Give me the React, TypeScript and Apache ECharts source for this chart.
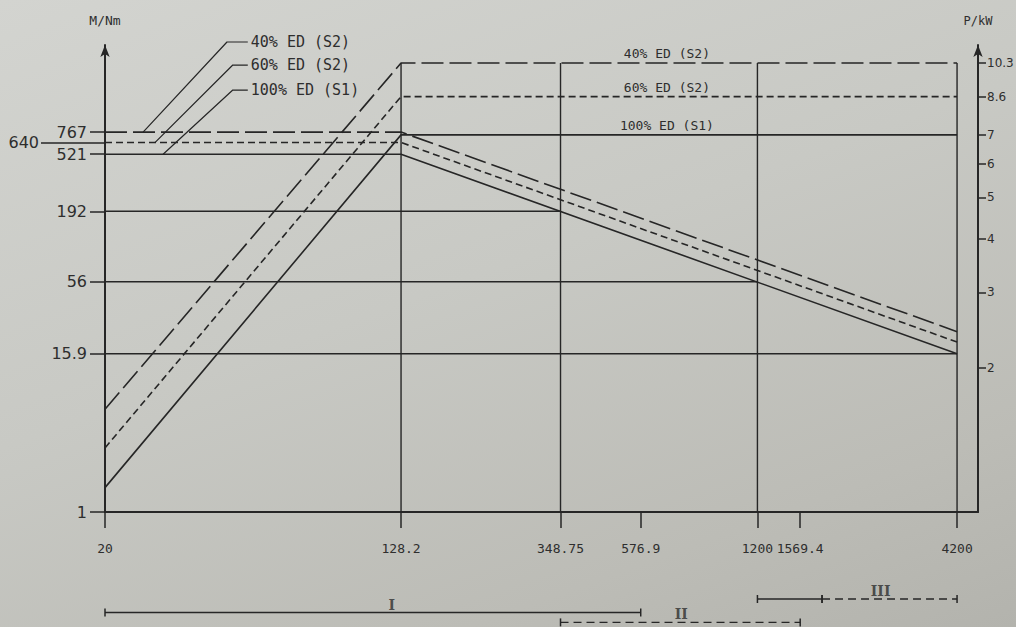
import React, { useEffect, useRef } from "react";
import * as echarts from "echarts";

// ---- tick labels ----
const SPEED_TICKS = [20, 128.2, 348.75, 576.9, 1200, 1569.4, 4200];
const TORQUE_TICKS = [1, 15.9, 56, 192, 521, 767];
const TORQUE_OFFSET_TICK = [640];
const POWER_TICKS = [2, 3, 4, 5, 6, 7, 8.6, 10.3];

// ---- duty cycles (40% S2, 60% S2, 100% S1) ----
const DUTY_NAMES = ["40% ED (S2)", "60% ED (S2)", "100% ED (S1)"];
const SPEED_MIN = 20;
const SPEED_BASE = 128.2;
const SPEED_TOP = 4200;
const TORQUE_RATED = [767, 640, 521];
const TORQUE_AT_TOP = [23.4, 19.5, 15.9];
const POWER_AT_MIN = [1.6, 1.3, 1.05];
const POWER_RATED = [10.3, 8.6, 7];

// ---- construction lines ----
const REF_TORQUE = [192, 56, 15.9];
const REF_TORQUE_END = [348.75, 1200, 4200];
const REF_SPEEDS = [128.2, 348.75, 1200, 4200];

// ---- annotation leaders (data coords) ----
const LEADER_START = [25.4, 27.4, 28.8];
const LEADER_KNEE_X = [43.0, 44.6, 44.6];
const LEADER_END_X = [49, 49, 49];
const LEADER_Y = [3706, 2477, 1600];
const DUTY_LABEL_SPEED = 680;

// ---- speed ranges I / II / III ----
const RANGE_NAMES = ["I", "II", "III"];
const RANGE_FROM = [20, 348.75, 1200];
const RANGE_TO = [576.9, 1569.4, 4200];
const RANGE_SOLID_TO = [576.9, 348.75, 1800];
const RANGE_ROW = [1.5, 0.4, 3];
const RANGE_LABEL_AT = [121, 744, 2600];

// ---- axis extents ----
const X_MAX = 4790;
const M_MIN = 1;
const M_MAX = 3516;
const P_MIN = 0.921;
const P_MAX = 11.35;

const INK = "#262626";
const TEXT = "#2e2e2e";
const MONO = "'DejaVu Sans Mono', monospace";
const NUM = "'DejaVu Sans', sans-serif";
const DASH: any[] = [[22, 6], [7, 4], "solid"];

const nearest = (list: number[]) => (v: number) => {
  let best = list[0];
  for (const t of list) {
    if (Math.abs(Math.log(t) - Math.log(v)) < Math.abs(Math.log(best) - Math.log(v))) best = t;
  }
  return String(best);
};

function buildOption() {
  const series: any[] = [];

  // torque curves
  DUTY_NAMES.forEach((name, i) => {
    series.push({
      type: "line",
      name: "M " + name,
      xAxisIndex: 0,
      yAxisIndex: 0,
      symbol: "none",
      silent: true,
      lineStyle: { color: INK, width: 1.6, type: DASH[i] },
      data: [
        [SPEED_MIN, TORQUE_RATED[i]],
        [SPEED_BASE, TORQUE_RATED[i]],
        [SPEED_TOP, TORQUE_AT_TOP[i]],
      ],
    });
  });

  // power curves
  DUTY_NAMES.forEach((name, i) => {
    series.push({
      type: "line",
      name: "P " + name,
      xAxisIndex: 0,
      yAxisIndex: 1,
      symbol: "none",
      silent: true,
      lineStyle: { color: INK, width: 1.6, type: DASH[i] },
      data: [
        [SPEED_MIN, POWER_AT_MIN[i]],
        [SPEED_BASE, POWER_RATED[i]],
        [SPEED_TOP, POWER_RATED[i]],
      ],
      markPoint: {
        symbol: "circle",
        symbolSize: 0,
        silent: true,
        label: {
          show: true,
          position: "top",
          distance: 3,
          formatter: name,
          fontFamily: MONO,
          fontSize: 13,
          color: TEXT,
        },
        data: [{ coord: [DUTY_LABEL_SPEED, POWER_RATED[i]] }],
      },
    });
  });

  // horizontal reference torque lines
  REF_TORQUE.forEach((v, i) => {
    series.push({
      type: "line",
      xAxisIndex: 0,
      yAxisIndex: 0,
      symbol: "none",
      silent: true,
      lineStyle: { color: INK, width: 1.4 },
      data: [
        [SPEED_MIN, v],
        [REF_TORQUE_END[i], v],
      ],
    });
  });

  // vertical reference speed lines
  REF_SPEEDS.forEach((s) => {
    series.push({
      type: "line",
      xAxisIndex: 0,
      yAxisIndex: 1,
      symbol: "none",
      silent: true,
      lineStyle: { color: INK, width: 1.4 },
      data: [
        [s, P_MIN],
        [s, POWER_RATED[0]],
      ],
    });
  });

  // annotation leaders
  DUTY_NAMES.forEach((name, i) => {
    series.push({
      type: "line",
      xAxisIndex: 0,
      yAxisIndex: 0,
      symbol: "none",
      silent: true,
      clip: false,
      lineStyle: { color: INK, width: 1.2 },
      data: [
        [LEADER_START[i], TORQUE_RATED[i]],
        [LEADER_KNEE_X[i], LEADER_Y[i]],
        [LEADER_END_X[i], LEADER_Y[i]],
      ],
      endLabel: {
        show: true,
        formatter: name,
        distance: 3,
        fontFamily: MONO,
        fontSize: 15,
        color: TEXT,
      },
    });
  });

  // range bars
  RANGE_NAMES.forEach((name, i) => {
    const hasSolid = RANGE_SOLID_TO[i] > RANGE_FROM[i];
    if (hasSolid) {
      series.push({
        type: "line",
        xAxisIndex: 1,
        yAxisIndex: 3,
        symbol: "rect",
        symbolSize: [1.5, 8],
        itemStyle: { color: INK },
        silent: true,
        lineStyle: { color: INK, width: 1.5 },
        data: [
          [RANGE_FROM[i], RANGE_ROW[i]],
          [RANGE_SOLID_TO[i], RANGE_ROW[i]],
        ],
      });
    }
    if (RANGE_SOLID_TO[i] < RANGE_TO[i]) {
      series.push({
        type: "line",
        xAxisIndex: 1,
        yAxisIndex: 3,
        symbol: "rect",
        symbolSize: [1.5, 8],
        itemStyle: { color: INK },
        silent: true,
        lineStyle: { color: INK, width: 1.3, type: [8, 5] },
        data: [
          [hasSolid ? RANGE_SOLID_TO[i] : RANGE_FROM[i], RANGE_ROW[i]],
          [RANGE_TO[i], RANGE_ROW[i]],
        ],
      });
    }
  });
  series.push({
    type: "scatter",
    xAxisIndex: 1,
    yAxisIndex: 3,
    symbolSize: 0,
    silent: true,
    label: {
      show: true,
      position: "top",
      distance: 1,
      formatter: (p: any) => p.value[2],
      fontFamily: "'DejaVu Serif', serif",
      fontSize: 14,
      fontWeight: "bold",
      color: TEXT,
    },
    data: RANGE_NAMES.map((n, i) => [RANGE_LABEL_AT[i], RANGE_ROW[i], n]),
  });

  const axisText = { fontFamily: NUM, color: TEXT };

  return {
    animation: false,
    backgroundColor: "transparent",
    grid: [
      { left: 105, right: 38, top: 45, bottom: 115, outerBoundsMode: "none", containLabel: false },
      { left: 105, right: 38, top: 590, height: 36, outerBoundsMode: "none", containLabel: false },
    ],
    xAxis: [
      {
        type: "log",
        gridIndex: 0,
        min: SPEED_MIN,
        max: X_MAX,
        logBase: 10,
        axisLine: { show: true, lineStyle: { color: INK, width: 2 } },
        axisTick: {
          show: true,
          customValues: SPEED_TICKS,
          length: 16,
          lineStyle: { color: INK, width: 1.5 },
        },
        axisLabel: {
          show: true,
          customValues: SPEED_TICKS,
          margin: 30,
          fontSize: 13,
          formatter: nearest(SPEED_TICKS),
          fontFamily: MONO,
          color: TEXT,
        },
        splitLine: { show: false },
        minorTick: { show: false },
      },
      {
        type: "log",
        gridIndex: 1,
        min: SPEED_MIN,
        max: X_MAX,
        show: false,
      },
    ],
    yAxis: [
      {
        type: "log",
        gridIndex: 0,
        position: "left",
        min: M_MIN,
        max: M_MAX,
        name: "M/Nm",
        nameLocation: "end",
        nameGap: 18,
        nameTextStyle: { fontFamily: MONO, fontSize: 13, color: TEXT },
        axisLine: {
          show: true,
          symbol: ["none", "arrow"],
          symbolSize: [7, 12],
          lineStyle: { color: INK, width: 2 },
        },
        axisTick: {
          show: true,
          customValues: TORQUE_TICKS,
          length: 15,
          lineStyle: { color: INK, width: 1.5 },
        },
        axisLabel: {
          show: true,
          customValues: TORQUE_TICKS,
          margin: 18,
          fontSize: 16,
          formatter: nearest(TORQUE_TICKS),
          ...axisText,
        },
        splitLine: { show: false },
        minorTick: { show: false },
      },
      {
        type: "log",
        gridIndex: 0,
        position: "right",
        min: P_MIN,
        max: P_MAX,
        name: "P/kW",
        nameLocation: "end",
        nameGap: 18,
        nameTextStyle: { fontFamily: MONO, fontSize: 12, color: TEXT },
        axisLine: {
          show: true,
          symbol: ["none", "arrow"],
          symbolSize: [7, 12],
          lineStyle: { color: INK, width: 2 },
        },
        axisTick: {
          show: true,
          customValues: POWER_TICKS,
          length: 8,
          lineStyle: { color: INK, width: 1.5 },
        },
        axisLabel: {
          show: true,
          customValues: POWER_TICKS,
          margin: 9,
          fontSize: 12,
          formatter: nearest(POWER_TICKS),
          ...axisText,
        },
        splitLine: { show: false },
        minorTick: { show: false },
      },
      {
        type: "log",
        gridIndex: 0,
        position: "left",
        min: M_MIN,
        max: M_MAX,
        axisLine: { show: false },
        axisTick: {
          show: true,
          customValues: TORQUE_OFFSET_TICK,
          length: 64,
          lineStyle: { color: INK, width: 1.5 },
        },
        axisLabel: {
          show: true,
          customValues: TORQUE_OFFSET_TICK,
          margin: 66,
          fontSize: 16,
          formatter: nearest(TORQUE_OFFSET_TICK),
          ...axisText,
        },
        splitLine: { show: false },
        minorTick: { show: false },
      },
      {
        type: "value",
        gridIndex: 1,
        min: 0,
        max: 4,
        show: false,
      },
    ],
    series,
  };
}

export default function App() {
  const ref = useRef<HTMLDivElement>(null);
  useEffect(() => {
    if (!ref.current) return;
    const chart = echarts.init(ref.current, undefined, { renderer: "svg" });
    chart.setOption(buildOption() as any);
    return () => chart.dispose();
  }, []);
  return (
    <div
      style={{
        position: "fixed",
        left: 0,
        top: 0,
        width: 1016,
        height: 627,
        background:
          "linear-gradient(160deg, #d3d4d0 0%, #c8c9c4 45%, #bcbcb6 80%, #b3b3ad 100%)",
      }}
    >
      <div ref={ref} style={{ width: 1016, height: 627 }} />
    </div>
  );
}
